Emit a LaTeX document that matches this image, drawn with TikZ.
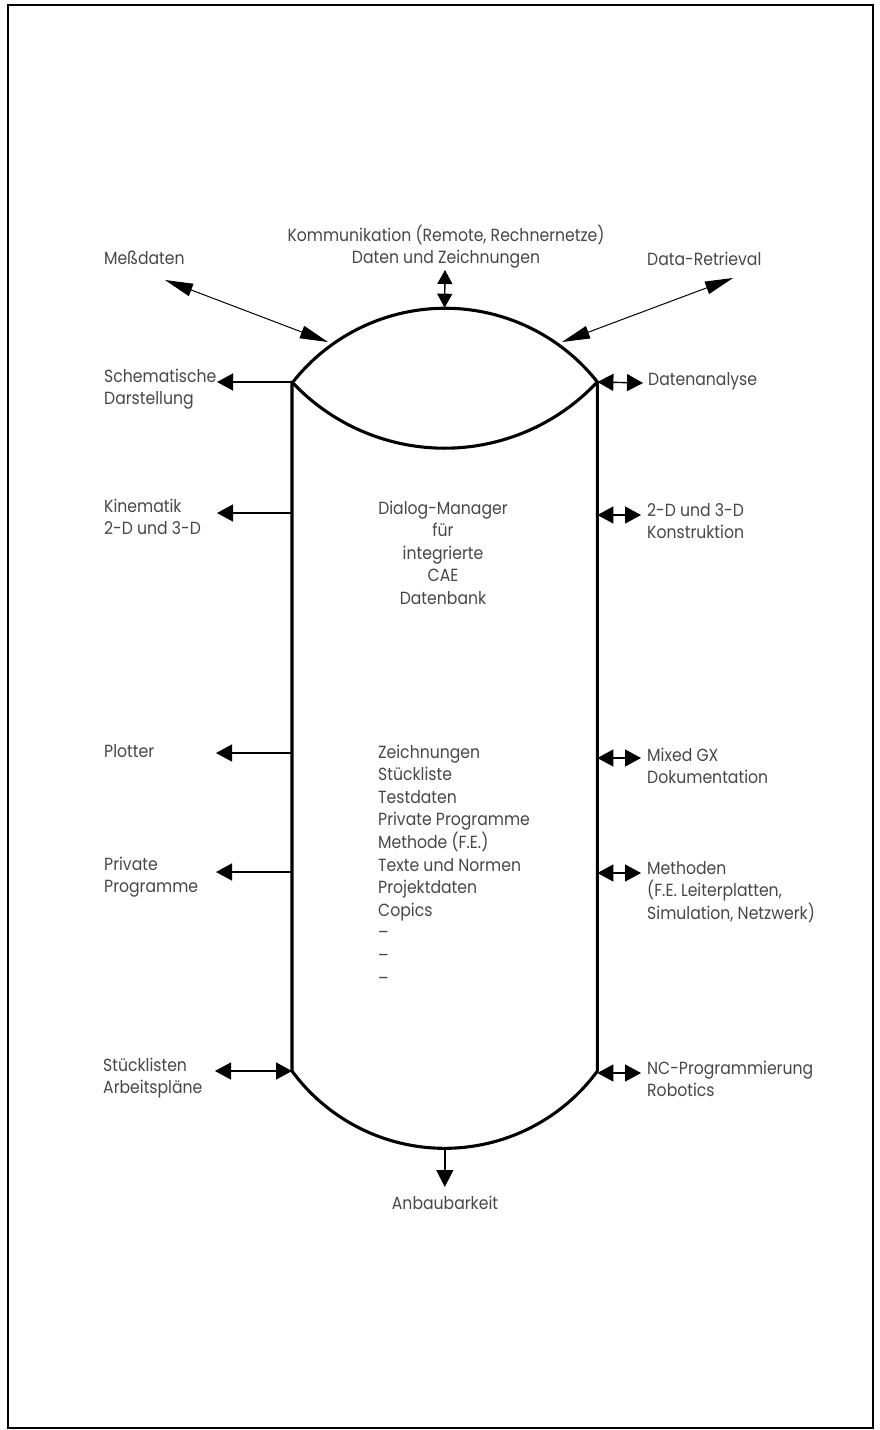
\documentclass[tikz,border=0pt]{standalone}
\usepackage{fontspec}
\setmainfont[FakeStretch=0.89]{Poppins}
\usetikzlibrary{arrows.meta}
\begin{document}
\begin{tikzpicture}[x=1pt,y=-1pt,
  lbl/.style={inner sep=0pt, text=black!72, font=\fontsize{17.6}{22.6}\selectfont},
  cyl/.style={line width=3.1pt, line join=round},
  conn/.style={line width=1.4pt},
  thinconn/.style={line width=1pt},
  headL/.style={-{Triangle[length=16pt,width=17pt]}},
  headLR/.style={{Triangle[length=16pt,width=17pt]}-{Triangle[length=16pt,width=17pt]}},
  headUD/.style={{Triangle[length=14pt,width=15pt]}-{Triangle[length=14pt,width=15pt]}},
  headLong/.style={{Triangle[length=28pt,width=13pt]}-{Triangle[length=28pt,width=13pt]}}
]
\useasboundingbox (0,0) rectangle (879,1430);
\draw[line width=1.6pt] (8,5) rectangle (873,1428);

% cylinder
\coordinate (TL) at (292,382);
\coordinate (TR) at (597.4,382);
\coordinate (BL) at (292,1071);
\coordinate (BR) at (597.5,1071);
\coordinate (Ttop) at (444.6,307.7);
\coordinate (Bbot) at (444.8,1148.3);
\draw[cyl] (TL) -- (BL) arc[start angle=143.7, end angle=36.3, radius=189.5]
  -- (TR) arc[start angle=321.7, end angle=218.1, radius=194] -- cycle;
\draw[cyl] (TL) arc[start angle=136.9, end angle=43.1, radius=209];

% top labels
\node[lbl, anchor=base, align=center] (komm) at (446,263.6)
  {Kommunikation (Remote, Rechnernetze)\\Daten und Zeichnungen};
\node[lbl, anchor=base west] (mess) at (104,264) {Meßdaten};
\node[lbl, anchor=base west] (retr) at (647,265) {Data-Retrieval};
\coordinate (kommA) at (445,270);
\draw[conn, headUD] (kommA) -- (Ttop);
\coordinate (messA) at (165,280);
\coordinate (messB) at (328,342);
\draw[thinconn, headLong] (messA) -- (messB);
\coordinate (retrA) at (562,342);
\coordinate (retrB) at (733,278);
\draw[thinconn, headLong] (retrA) -- (retrB);

% left labels
\node[lbl, anchor=base west, align=left] (schem) at (104,404.6) {Schematische\\Darstellung};
\node[lbl, anchor=base west, align=left] (kin) at (104,534.6) {Kinematik\\2-D und 3-D};
\node[lbl, anchor=base west, align=left] (plot) at (104,757) {Plotter};
\node[lbl, anchor=base west, align=left] (priv) at (104,892.6) {Private\\Programme};
\node[lbl, anchor=base west, align=left] (stue) at (103,1093.6) {Stücklisten\\Arbeitspläne};

\coordinate (schemT) at (217,382);
\draw[conn, headL] (TL) -- (schemT);
\coordinate (kinS) at (292,513);
\coordinate (kinT) at (217,513);
\draw[conn, headL] (kinS) -- (kinT);
\coordinate (plotS) at (292,753);
\coordinate (plotT) at (216,753);
\draw[conn, headL] (plotS) -- (plotT);
\coordinate (privS) at (292,872);
\coordinate (privT) at (216,872);
\draw[conn, headL] (privS) -- (privT);
\coordinate (stueT) at (215,1071);
\draw[conn, headLR] (stueT) -- (BL);

% right labels
\node[lbl, anchor=base west, align=left] (dana) at (648,385) {Datenanalyse};
\node[lbl, anchor=base west, align=left] (kons) at (647,538.6) {2-D und 3-D\\Konstruktion};
\node[lbl, anchor=base west, align=left] (mixd) at (647,783.6) {Mixed GX\\Dokumentation};
\node[lbl, anchor=base west, align=left] (meth) at (647,919.2) {Methoden\\(F.E. Leiterplatten,\\Simulation, Netzwerk)};
\node[lbl, anchor=base west, align=left] (ncpr) at (647,1096.6) {NC-Programmierung\\Robotics};

\coordinate (danaT) at (643,383);
\draw[conn, headLR] (TR) -- (danaT);
\coordinate (konsS) at (597.4,515);
\coordinate (konsT) at (641,515);
\draw[conn, headLR] (konsS) -- (konsT);
\coordinate (mixdS) at (597.4,758);
\coordinate (mixdT) at (641,758);
\draw[conn, headLR] (mixdS) -- (mixdT);
\coordinate (methS) at (597.4,873);
\coordinate (methT) at (641,873);
\draw[conn, headLR] (methS) -- (methT);
\coordinate (ncS) at (597.4,1073);
\coordinate (ncT) at (641,1073);
\draw[conn, headLR] (ncS) -- (ncT);

% bottom
\node[lbl, anchor=base] (anb) at (445,1209) {Anbaubarkeit};
\coordinate (anbT) at (444.8,1187);
\draw[conn, {-Triangle[length=17pt,width=17pt]}] (Bbot) -- (anbT);

% centre text
\node[lbl, anchor=base, align=center] (dlg) at (443,604.4)
  {Dialog-Manager\\für\\integrierte\\CAE\\Datenbank};
\node[lbl, anchor=base west, align=left] (list) at (378,984)
  {Zeichnungen\\Stückliste\\Testdaten\\Private Programme\\Methode (F.E.)\\Texte und Normen\\Projektdaten\\Copics\\–\\–\\–};
\end{tikzpicture}
\end{document}
